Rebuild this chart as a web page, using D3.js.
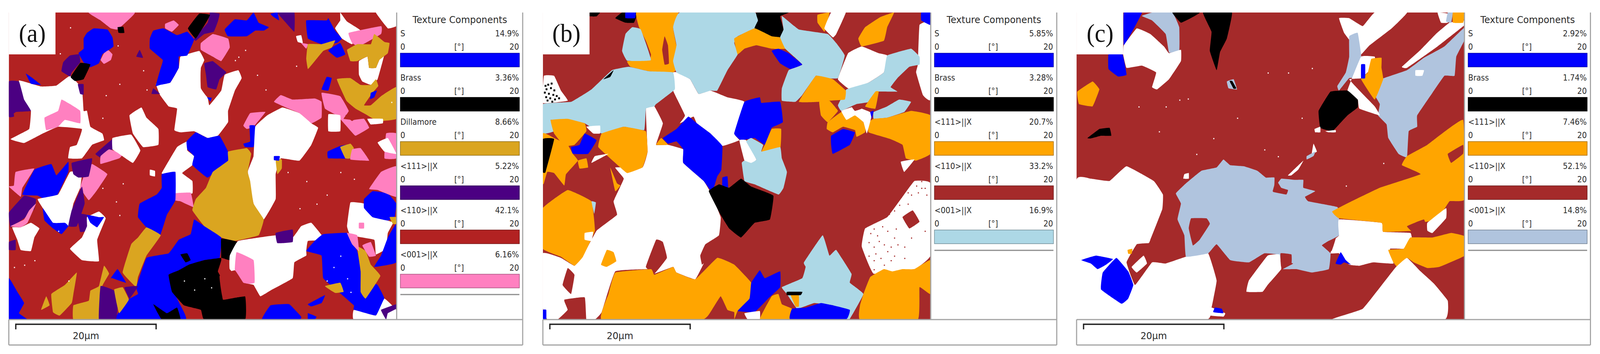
<!DOCTYPE html>
<html><head><meta charset="utf-8">
<script src="https://cdn.jsdelivr.net/npm/d3@7/dist/d3.min.js"></script>
<style>html,body{margin:0;padding:0;background:#fff;overflow:hidden}svg{display:block;width:100vw;height:100vh}</style></head>
<body><svg id="c" viewBox="0 0 4356 905" preserveAspectRatio="none"></svg>
<script>
// ---------- legend data ----------
const panelLabels = ["(a)", "(b)", "(c)"];
const titleText = "Texture Components";
const scaleLabel = "20µm";
const scaleMicrons = 20;
const rangeLabels = ["0", "[°]", "20"];
const componentsA = ["S", "Brass", "Dillamore", "<111>||X", "<110>||X", "<001>||X"];
const percentsA = ["14.9%", "3.36%", "8.66%", "5.22%", "42.1%", "6.16%"];
const keysA = ["s", "k", "g", "i", "r", "p"];
const componentsB = ["S", "Brass", "<111>||X", "<110>||X", "<001>||X"];
const percentsB = ["5.85%", "3.28%", "20.7%", "33.2%", "16.9%"];
const keysB = ["s", "k", "o", "r", "l"];
const componentsC = ["S", "Brass", "<111>||X", "<110>||X", "<001>||X"];
const percentsC = ["2.92%", "1.74%", "7.46%", "52.1%", "14.8%"];
const keysC = ["s", "k", "o", "r", "l"];
const colorsA = {s:"#0000ff",k:"#000000",g:"#daa520",i:"#4b0082",r:"#b22222",p:"#ff80c0",w:"#ffffff"};
const colorsB = {s:"#0000ff",k:"#000000",o:"#ffa500",r:"#a52a2a",l:"#add8e6",w:"#ffffff"};
const colorsC = {s:"#0000ff",k:"#000000",o:"#ffa500",r:"#a52a2a",l:"#b0c4de",w:"#ffffff"};

// ---------- grain outlines, in map units ----------
const grainsA = [
["w","55,355 120,382 165,378 205,335 240,390 245,490 255,490 265,560 300,590 305,620 270,640 240,700 200,700 205,650 225,640 240,570 170,560 125,590 70,632 30,615 85,570 90,490 70,490 65,420"],
["p","130,520 170,490 180,440 205,460 235,490 235,545 190,530 170,560 135,575"],
["i","25,360 55,360 70,440 90,490 45,495 40,515 25,515"],
["p","260,55 395,55 375,90 345,130 325,125 295,90"],
["k","345,120 362,118 365,145 348,145"],
["s","275,125 315,130 330,165 333,205 315,225 300,240 290,280 265,297 245,275 230,235 245,215 245,170 255,145"],
["p","318,222 330,240 325,265 305,282 295,265 305,235"],
["i","205,245 232,240 235,275 210,320 205,338 180,315 185,275"],
["k","235,278 265,285 245,350 220,358 207,340"],
["i","617,55 645,60 640,95 628,140 600,150 575,180 570,170 610,100"],
["k","585,60 617,65 605,100 575,170 552,125"],
["w","530,250 585,225 600,265 590,300 590,370 610,430 615,465 650,400 660,330 700,310 710,345 690,400 670,490 670,540 640,600 610,610 570,580 530,585 512,575 520,480 495,470 470,420 458,370 500,365 525,300"],
["s","450,135 480,125 520,155 550,140 570,175 550,245 525,250 525,300 500,365 470,375 457,380 470,310 478,265 440,215 440,170"],
["p","485,105 510,90 525,110 505,140 485,125"],
["p","590,190 625,150 670,170 675,210 650,270 625,250 590,220"],
["r","590,305 625,255 655,275 680,295 660,330 645,400 610,430 590,390"],
["i","600,280 625,270 650,300 665,320 645,350 635,395 610,385 605,330"],
["s","608,430 622,432 618,448"],
["s","660,130 690,85 725,90 745,55 760,100 790,120 775,135 750,135 725,160 670,160"],
["i","815,55 865,55 865,140 840,100"],
["s","795,60 815,55 820,90 800,70"],
["s","900,90 960,90 965,80 985,135 1005,170 990,190 945,195 905,170"],
["w","870,160 885,155 890,190 875,185"],
["p","885,190 905,195 900,215"],
["s","975,210 1000,190 1015,240 990,255 965,225"],
["g","905,195 945,195 985,178 975,210 950,225 925,270 905,305 900,260"],
["w","1000,55 1020,95 1060,135 1035,195 1005,170 985,125 1000,90"],
["w","1105,55 1165,55 1165,115 1140,125"],
["p","1025,145 1120,115 1120,150 1055,205 1035,190"],
["w","1055,270 1080,250 1085,300 1105,300 1115,265 1130,240 1110,350 1090,375 1065,360 1055,330"],
["g","1020,220 1050,195 1090,195 1100,150 1130,185 1145,190 1140,235 1115,265 1105,300 1085,300 1080,250 1050,270 1030,270"],
["s","945,395 960,340 975,345 965,400"],
["g","990,350 1030,345 1060,375 1090,375 1105,350 1112,380 1095,410 1070,465 1090,465 1120,425 1165,385 1165,525 1110,535 1075,505 1045,480 1018,445"],
["s","1090,410 1108,400 1100,430 1088,438"],
["p","945,410 1000,425 1025,490 1010,525 1040,530 1070,525 1085,565 1045,600 1020,560 990,510 955,480"],
["r","1015,510 1040,495 1055,510 1035,535"],
["w","965,505 1000,510 1000,580 965,580"],
["w","1080,525 1125,525 1125,545 1090,550"],
["p","1135,590 1165,590 1165,700 1130,700"],
["w","1110,630 1140,610 1165,680 1130,670"],
["p","825,420 860,440 925,435 945,450 945,520 915,545 880,500 840,475 805,450"],
["p","735,500 780,495 745,560 725,570 715,555"],
["s","733,555 750,555 750,610 745,650 720,650 715,635 735,625"],
["w","785,510 830,475 880,500 915,545 935,565 915,640 880,710 825,700 810,770 810,880 775,970 745,900 728,760 745,690 750,560"],
["g","810,705 828,705 828,745 815,770"],
["s","805,690 822,690 820,710 805,708"],
["s","963,670 1000,645 1025,640 1035,700 965,700"],
["g","1000,650 1030,635 1040,655 1030,700 1015,700"],
["p","1035,660 1060,655 1085,710 1030,705"],
["w","475,765 520,650 550,625 550,665 570,690 565,730 535,765 565,800 565,855 515,855 515,760 485,768"],
["s","548,625 575,585 610,610 645,600 670,670 670,710 610,785 565,730 570,690 550,660"],
["g","670,670 725,655 738,680 728,760 735,800 745,900 775,970 760,1040 690,1065 650,1050 600,1000 565,930 575,880 605,830 625,760 670,710"],
["p","510,855 560,852 568,915 530,890 510,885"],
["s","475,770 515,760 515,885 490,950 470,1040 430,1005 405,960 410,900 460,860 475,830"],
["w","440,750 455,755 455,780 440,775"],
["p","45,760 100,745 65,830 60,870 25,825 40,820"],
["s","100,750 150,725 165,775 200,715 200,760 165,870 130,880 110,865 65,860"],
["w","205,760 240,760 235,830 215,900 200,1000 150,990 125,920 110,880 170,860"],
["p","270,725 315,770 280,850 260,885 235,830 250,760"],
["i","240,825 248,900 225,1000 200,1000 210,930"],
["i","25,940 70,865 105,880 100,925 70,965 30,1005"],
["p","30,1000 70,970 85,930 105,900 80,985 60,1005"],
["s","125,920 155,985 190,985 200,1000 180,1035 155,1010 130,975"],
["w","35,1005 60,1005 90,985 115,1010 100,1050 90,1110 60,1105 50,1060"],
["i","225,945 255,950 255,1020 235,1025"],
["w","255,960 290,935 310,965 285,1060 290,1155 240,1150 205,1100 240,1050 255,1000"],
["s","255,950 290,960 305,960 285,1005 265,985"],
["i","210,720 270,700 260,780 230,785 215,770"],
["i","280,680 330,615 330,660 300,700"],
["p","295,690 320,660 360,680 350,700 295,725"],
["w","330,610 385,595 412,665 390,720 345,675 330,660"],
["w","380,510 415,475 430,520 465,570 465,640 420,650 390,590"],
["s","75,325 95,345 120,375 90,370"],
["i","228,372 245,372 245,418 235,415"],
["i","450,390 470,415 445,415"],
["i","410,220 420,255 400,250"],
["r","40,500 85,495 85,555 65,565 45,540"],
["g","430,1005 472,1040 430,1130 405,1225 400,1270 360,1205 385,1080 405,1050"],
["s","570,970 600,1000 650,1050 645,1140 600,1150 560,1170 530,1200 495,1215 510,1290 530,1350 545,1413 340,1413 370,1330 405,1300 400,1270 430,1140 495,1120 525,1060 560,1035"],
["k","650,1055 700,1070 700,1110 675,1150 650,1140 600,1150 555,1170 525,1195 495,1215 505,1290 540,1350 590,1370 600,1413 720,1413 720,1310 655,1325 650,1230 640,1200 650,1150"],
["w","700,1065 810,1040 860,1050 885,1000 915,985 955,1060 905,1065 900,1110 900,1130 865,1160 860,1230 800,1280 765,1310 745,1260 720,1260 675,1190 675,1130"],
["p","695,1115 745,1150 748,1250 715,1255 690,1195"],
["r","645,1220 690,1195 715,1250 745,1260 750,1310 720,1310 655,1320"],
["k","530,1125 550,1120 560,1150 545,1160"],
["k","450,1345 490,1385 520,1360 530,1413 475,1413"],
["i","810,1030 860,1015 860,1070 815,1075"],
["s","950,1035 1020,1030 1050,1110 1060,1185 1085,1240 1110,1260 1130,1320 1105,1395 1040,1370 1040,1350 995,1290 950,1230 945,1130 900,1110 925,1065"],
["g","1050,1090 1075,1110 1090,1170 1118,1220 1075,1320 1060,1290 1060,1200"],
["g","955,1265 1000,1250 1010,1290 985,1295"],
["s","770,1413 795,1350 850,1345 885,1400 880,1413"],
["s","905,1345 955,1305 945,1340 915,1355"],
["s","905,1385 930,1400 925,1413 905,1413"],
["w","1040,1370 1105,1395 1130,1320 1165,1370 1165,1413 1040,1413"],
["i","1120,1370 1165,1345 1165,1365 1140,1385 1135,1413"],
["w","1030,895 1070,900 1090,950 1150,980 1165,960 1140,1030 1135,1100 1105,1125 1100,1060 1030,1040 1020,1000"],
["s","1070,880 1095,845 1140,855 1165,900 1160,960 1140,975 1095,960 1070,920"],
["g","1145,960 1165,960 1165,990 1155,990"],
["p","1020,1030 1050,1040 1055,1110 1035,1080"],
["p","1065,1085 1090,1070 1105,1130 1085,1135"],
["p","1055,985 1070,985 1070,1010 1055,1010"],
["p","1120,760 1165,735 1165,870 1110,840 1085,835"],
["s","1165,990 1165,1160 1100,1180 1120,1130 1140,1050"],
["g","150,1300 190,1260 225,1205 215,1300 210,1340 175,1395 155,1380"],
["g","120,1370 135,1310 145,1350"],
["g","215,1413 215,1350 260,1330 265,1285 290,1265 305,1175 320,1210 300,1265 295,1413"],
["i","290,1413 295,1265 335,1285 345,1360 340,1413"],
["g","335,1280 360,1270 378,1325 350,1385 342,1340"],
["i","365,1270 405,1265 380,1320"],
["s","325,1230 345,1190 370,1250 330,1230"],
["s","25,1230 50,1290 70,1340 55,1385 80,1413 25,1413"],
["i","25,1070 45,1060 45,1105 25,1105"]
];
const grainsB = [
["w","330,480 355,470 380,545 360,640 395,640 440,660 440,720 500,800 520,850 550,960 545,1040 505,1080 490,1130 495,1170 500,1165 475,1235 420,1205 410,1180 355,1210 345,1190 240,1200 200,1380 180,1413 155,1413 150,1315 90,1325 100,1370 70,1413 40,1413 27,1360 27,1120 80,1140 120,1175 145,1130 185,1020 245,950 235,890 265,790 240,740 320,740 335,670"],
["w","410,320 425,320 460,350 485,415 520,400 570,430 620,450 590,590 605,620 555,645 520,590 480,545 470,515 430,545 445,510 410,400"],
["w","975,1010 1040,960 1080,880 1120,800 1167,810 1167,1130 1120,1190 1000,1210 965,1090"],
["r","1085,960 1115,930 1135,980 1105,1010"],
["w","1135,110 1167,100 1167,440 1145,420 1125,320 1130,285"],
["k","165,55 195,55 185,72 165,72"],
["k","240,80 260,55 305,55 295,100 270,100"],
["s","270,55 300,55 298,80 270,80"],
["o","302,55 425,55 410,120 420,200 445,265 410,320 340,315 285,295 275,270 340,265 345,240 330,180 310,120"],
["r","385,160 395,200 398,280 385,285 378,220"],
["l","290,120 315,130 345,265 275,268 260,225 270,150"],
["l","430,55 650,55 660,100 650,125 600,160 590,190 600,240 570,310 540,400 520,400 485,415 460,350 420,320 410,270 420,200 410,120"],
["k","655,55 750,55 725,72 735,130 725,165 700,160 650,125 660,90"],
["o","590,170 650,125 700,160 725,165 740,215 700,215 655,200 620,215 600,240"],
["l","730,70 780,130 865,150 890,190 915,245 895,345 850,345 830,335 790,420 770,450 730,445 730,390 750,310 790,285 740,215 725,165 735,130"],
["s","700,225 720,215 750,235 790,285 755,305 725,280"],
["o","835,65 870,55 860,120 855,140 835,100"],
["w","875,55 918,55 890,150 880,165 855,125"],
["o","1020,75 1060,55 1040,120 1030,180 965,205 955,170 975,120"],
["s","1140,55 1167,55 1167,110 1140,90"],
["w","925,235 965,205 1015,235 1040,245 1030,320 985,365 930,395 895,350"],
["l","1040,245 1110,215 1135,250 1135,285 1105,295 1070,345 1050,385 1070,405 1010,405 990,450 950,460 905,490 895,465 920,395 985,365 1030,320"],
["o","780,450 830,335 880,350 918,400 915,440 870,445 840,450"],
["o","840,450 870,445 895,490 865,540 845,510"],
["r","880,445 895,445 890,480"],
["o","975,470 1005,405 1015,405 1005,480"],
["l","1000,525 1000,495 1040,470 1075,440 1110,450 1090,495 1040,520"],
["o","985,540 1000,525 1040,520 1110,490 1167,510 1167,680 1125,710 1095,700 1085,640 1050,615 985,585"],
["o","865,540 905,495 940,490 975,550 975,585 950,605 945,575 910,560 880,585 862,570"],
["w","905,490 945,470 995,500 980,590 970,540 945,510 920,530"],
["r","935,470 955,460 965,480 945,490"],
["s","875,600 910,570 945,585 930,640 880,680 875,640"],
["s","990,495 1000,490 995,525"],
["s","620,450 665,430 670,455 725,450 733,540 700,565 680,640 650,610 610,620 590,590"],
["o","700,570 728,570 725,660 670,672 680,640"],
["w","605,620 625,620 655,705 640,722 620,710"],
["l","625,625 640,610 675,640 670,670 725,650 730,700 745,760 735,830 720,860 650,815 620,800 612,720 620,710 640,720 655,705"],
["o","360,640 375,610 395,640"],
["r","360,1060 380,1070 392,1140 355,1210 330,1180"],
["o","215,1105 235,1115 243,1155 215,1180 198,1170"],
["r","100,1185 120,1215 110,1300 85,1260"],
["r","115,1320 150,1315 150,1413 75,1413 100,1370 90,1330"],
["s","27,1370 37,1370 37,1413 27,1413"],
["s","380,610 420,570 455,515 480,545 520,590 555,645 552,750 540,780 525,850 500,800 440,720 440,660 420,625 395,635"],
["s","555,785 570,780 572,840 555,830"],
["k","515,845 545,815 575,830 610,790 640,825 705,865 695,970 650,985 610,1050 575,1010 550,950"],
["l","27,460 110,450 170,395 230,310 280,295 340,315 410,320 415,395 360,460 355,470 330,480 325,575 265,560 200,590 150,545 100,530 50,530 60,580 27,590"],
["o","50,530 100,525 150,545 155,580 120,640 90,645 60,590"],
["w","155,560 195,555 195,590 175,590"],
["s","150,590 185,620 160,680 115,680 110,650 135,640"],
["o","200,590 265,560 330,580 335,670 320,740 275,765 240,720 190,650"],
["o","27,590 60,610 100,640 115,680 130,710 95,770 90,820 60,765 40,760 30,810 27,810"],
["k","27,615 60,615 35,760 27,760"],
["w","180,690 220,680 170,720"],
["o","130,710 155,700 160,740 135,745"],
["o","225,740 245,810 255,820 240,845"],
["o","27,920 100,840 170,890 180,1020 145,1135 120,1175 80,1135 27,1100"],
["l","170,890 183,895 178,945"],
["w","30,335 60,335 80,400 100,445 27,455"],
["k","205,350 235,310 225,340"],
["w","150,1030 175,1025 170,1065 150,1060"],
["o","240,1205 345,1190 355,1215 410,1180 420,1205 475,1235 540,1140 590,1170 640,1250 635,1330 600,1375 590,1413 590,1380 570,1370 550,1310 520,1380 495,1413 200,1413 220,1300"],
["s","640,1250 665,1195 680,1230 725,1200 725,1270 690,1320 650,1380 600,1375 635,1320"],
["o","665,1413 700,1310 720,1300 730,1345 760,1365 755,1413"],
["l","795,1160 850,1040 870,1130 890,1105 935,1210 930,1250 970,1300 930,1410 920,1413 925,1380 880,1350 825,1340 775,1365 745,1300 730,1270 790,1230 800,1180"],
["s","755,1413 760,1365 800,1360 845,1340 880,1350 930,1370 918,1413"],
["o","755,1300 780,1305 780,1355 770,1355"],
["k","745,1290 790,1290 785,1305 745,1305"],
["w","620,1385 665,1375 665,1413 630,1413"],
["o","990,1225 1030,1190 1055,1200 1085,1190 1120,1190 1167,1150 1167,1300 1135,1270 1130,1413 960,1413 960,1350 970,1300"],
["w","1080,715 1120,705 1090,760"]
];
const grainsC = [
["s","167,55 220,55 195,130 167,200"],
["l","220,70 250,55 310,55 330,120 330,225 300,232 290,150 250,90"],
["k","310,55 390,55 370,75 335,100"],
["k","400,55 485,55 470,170 450,230 440,310 420,225 425,140"],
["w","167,200 205,125 245,150 285,205 300,235 335,220 335,270 300,350 265,395 250,385 262,320 220,290 175,300 165,240"],
["s","122,240 163,240 175,330 150,338 122,305"],
["o","30,405 75,360 95,395 75,470 35,460"],
["w","800,80 830,80 870,115 905,55 1000,55 955,125 890,200 865,240 840,195 815,145"],
["w","985,295 1040,220 1085,150 1125,100 1170,90 1170,110 1090,205 1000,300"],
["w","1090,55 1120,60 1120,100 1100,100"],
["l","1120,55 1135,55 1130,100 1115,95"],
["o","1135,55 1170,55 1165,100 1135,100"],
["l","905,360 1000,310 1050,255 1110,205 1170,120 1170,175 1145,250 1140,335 1110,335 1075,410 1030,510 1030,560 1005,580 1000,695 975,680 945,610 940,550 915,510 920,460 905,420"],
["w","1025,310 1050,310 1045,335 1025,335"],
["l","830,160 855,145 865,240 865,345 830,345 800,400 795,380 820,320 830,250"],
["w","865,250 905,250 905,290 865,345 830,350 860,400 905,470 920,510 860,480 855,440 825,400"],
["o","895,260 925,255 925,300 930,350 905,440 865,350 885,320"],
["s","865,285 877,285 877,345 865,345"],
["k","775,405 825,400 855,440 855,475 825,510 800,550 780,580 745,565 740,490"],
["w","728,570 745,560 745,585 730,585"],
["w","760,580 790,575 790,585 770,585"],
["k","60,610 95,570 125,565 130,600 100,600 70,612"],
["l","470,360 490,350 500,395 475,390"],
["k","478,358 486,358 498,390 490,392"],
["w","28,795 70,790 125,800 175,735 255,800 282,860 280,925 245,1060 240,1075 205,1080 175,1160 200,1260 250,1160 290,1165 350,1135 415,1120 440,1240 425,1360 410,1413 28,1413"],
["l","320,855 350,810 395,755 440,740 460,705 480,730 520,735 560,755 585,785 610,785 610,830 630,790 670,795 695,795 695,830 730,845 700,870 710,890 795,915 800,960 800,1040 770,1065 750,1085 775,1120 770,1190 720,1205 675,1190 635,1190 665,1165 625,1150 620,1125 580,1120 535,1160 480,1150 440,1080 415,1120 350,1135 345,1040 325,970 335,900"],
["r","365,965 410,965 420,990 390,1060 370,1085 358,1010"],
["r","605,845 615,795 630,830 650,840 645,860 610,850"],
["s","105,1205 145,1140 180,1200 195,1260 180,1320 160,1343 100,1280"],
["s","42,1150 85,1130 135,1145 115,1170 90,1190 70,1165"],
["o","178,1105 192,1100 190,1122 180,1122"],
["w","800,970 925,985 930,1025 1010,1030 1015,1070 990,1100 950,1100 960,1165 900,1160 860,1175 830,1170 800,1120 775,1120 790,1055 800,1040"],
["r","750,1085 770,1065 790,1055 778,1110"],
["s","790,1165 805,1115 820,1150 835,1170 815,1160 805,1170"],
["o","780,935 830,895 920,830 1040,770 985,730 1000,690 1060,640 1165,530 1170,880 1125,890 1090,970 1040,985 1020,1020 930,1025 925,985 800,965"],
["r","1120,680 1165,640 1165,680 1130,720"],
["w","1060,985 1115,920 1115,965 1075,1030 1060,1020"],
["o","945,1105 990,1100 1010,1050 1075,1050 1130,1030 1170,1045 1170,1130 1095,1180 1060,1185 1020,1160 1000,1140 975,1185 960,1160"],
["r","1000,1000 1050,970 1060,1030 1020,1030"],
["w","528,1290 535,1240 590,1130 625,1125 630,1190 590,1260 575,1290"],
["r","628,1120 660,1125 660,1165 630,1180"],
["w","780,1413 870,1365 965,1185 1000,1140 1040,1200 1080,1255 1120,1330 1110,1413"],
["w","425,1360 465,1385 460,1400 420,1395"],
["s","435,1360 455,1365 460,1385 430,1380"],
["w","345,770 358,765 358,790 342,790"],
["w","650,775 695,710 680,750 660,775"],
["w","725,635 735,670 720,680"],
["l","705,690 730,670 725,690 705,705"],
["w","190,1180 225,1130 235,1165 205,1205"]
];
// isolated unindexed pixels, in map units
const specksA = "205,120 175,235 345,200 420,310 350,370 310,420 300,520 430,395 520,320 700,250 720,220 690,265 755,330 780,395 640,500 560,310 870,290 990,560 1150,450 770,650 845,760 900,800 960,860 1040,790 1000,760 930,900 880,920 360,810 300,830 340,890 350,950 100,1150 70,1170 40,1180 200,1240 170,1020 600,1230 620,1270 570,1280 540,1240 1000,1130 980,1180 960,1240 1020,1230 1030,1290";
const specksBr = "1080,870 1100,850 1125,820 1140,830 1075,905 1045,945 1020,960 1000,1010 1010,1040 1040,1020 1060,1050 1030,1080 1000,1090 985,1070 1005,1120 1040,1110 1060,1130 1090,1090 1110,1050 1150,1020 1030,1170 1000,1150 990,1030 1025,1000 1065,1010 1050,1090 1015,1065 1070,1080 1090,1140 985,1130 1020,1140 1050,1150 1000,1190 1110,860 1140,800 1100,900 1060,930 1130,850 1155,860 1150,830";
const specksBk = "32,375 40,370 50,365 35,390 48,385 58,395 30,405 42,410 55,415 65,420 34,425 46,430 60,435 72,430 38,440 52,445";
const specksC = "330,440 355,435 290,470 210,470 270,580 430,610 500,520 690,520 590,320 650,320 720,300 380,680 580,660 620,690 820,820 930,720";

// ---------- shared frame layout ----------
const panels = [
 {label:panelLabels[0], off:0,    x0:25, items:componentsA, pct:percentsA, keys:keysA, colors:colorsA, grains:grainsA, specks:[[specksA,"w"]]},
 {label:panelLabels[1], off:1454, x0:27, items:componentsB, pct:percentsB, keys:keysB, colors:colorsB, grains:grainsB, specks:[[specksBr,"r"],[specksBk,"k"]]},
 {label:panelLabels[2], off:2907, x0:28, items:componentsC, pct:percentsC, keys:keysC, colors:colorsC, grains:grainsC, specks:[[specksC,"w"]]}
];
const svg = d3.select("#c");
const parsePts = s => s.split(" ").map(p => p.split(",").map(Number));
const gray = "#a3a3a3", ink = "#2b2b2b";

panels.forEach((P, pi) => {
  const g = svg.append("g").attr("transform", `translate(${P.off},0)`);
  const x = d3.scaleLinear([P.x0, P.x0 + 1140], [24, 1079]);
  const y = d3.scaleLinear([55, 1413], [32, 817]);
  const col = d3.scaleOrdinal(Object.keys(P.colors), Object.values(P.colors));
  const clipId = "clip" + pi;
  g.append("clipPath").attr("id", clipId).append("rect").attr("x",24).attr("y",32).attr("width",1055).attr("height",785);
  const map = g.append("g").attr("clip-path", `url(#${clipId})`);
  map.append("rect").attr("x",24).attr("y",32).attr("width",1055).attr("height",785).attr("fill", col("r"));
  const line = d3.line().x(d => x(d[0])).y(d => y(d[1])).curve(d3.curveCardinalClosed.tension(0.75));
  map.selectAll("path.grain").data(P.grains).join("path").attr("class","grain")
     .attr("d", d => line(parsePts(d[1]))).attr("fill", d => col(d[0]));
  P.specks.forEach(([s,k]) => {
    map.append("g").selectAll("rect").data(parsePts(s)).join("rect")
       .attr("x", d => x(d[0])).attr("y", d => y(d[1])).attr("width",k==="k"?5:3).attr("height",k==="k"?5:3).attr("fill", col(k));
  });
  // label box
  g.append("rect").attr("x",24).attr("y",32).attr("width",127).attr("height",107).attr("fill","#fff");
  g.append("text").text(P.label).attr("x",88).attr("y",107).attr("text-anchor","middle")
   .attr("font-family","Liberation Serif").attr("font-size",66).attr("fill","#111");

  // legend frame
  g.append("rect").attr("x",1079).attr("y",32).attr("width",344).attr("height",785).attr("fill","#fff");
  const ruler = [[1080,32,1080,817],[1423,32,1423,882],[24,817,1423,817],[24,817,24,882],[24,882,1423,882]];
  g.selectAll("line.frame").data(ruler).join("line").attr("class","frame")
   .attr("x1",d=>d[0]).attr("y1",d=>d[1]).attr("x2",d=>d[2]).attr("y2",d=>d[3])
   .attr("stroke",gray).attr("stroke-width",3);

  const txt = (sel, s, xx, yy, size, anchor) => sel.append("text").text(s).attr("x",xx).attr("y",yy)
     .attr("font-size",size).attr("text-anchor",anchor).attr("font-family","DejaVu Sans").attr("fill",ink);
  txt(g, titleText, 1252, 59, 25, "middle");

  const rowY = d3.scaleLinear([0,1],[0,113]);
  const barX = d3.scaleLinear([0,20],[1090,1414]);
  const rows = g.selectAll("g.row").data(P.items).join("g").attr("class","row")
     .attr("transform",(d,i)=>`translate(0,${rowY(i)})`);
  rows.each(function(d,i){
    const r = d3.select(this);
    txt(r, d, 1090, 93, 20.5, "start");
    txt(r, P.pct[i], 1413, 93, 20.5, "end");
    txt(r, rangeLabels[0], barX(0), 127, 20.5, "start");
    txt(r, rangeLabels[1], barX(10)-2, 127, 20.5, "middle");
    txt(r, rangeLabels[2], 1413, 127, 20.5, "end");
    const c = col(P.keys[i]);
    r.append("rect").attr("x",barX(0)).attr("y",136).attr("width",barX(20)-barX(0)).attr("height",35)
     .attr("fill",c).attr("stroke",d3.color(c).darker(1.2)).attr("stroke-width",1.5);
  });
  const endY = 171 + rowY(P.items.length-1) + 17;
  g.append("line").attr("x1",barX(0)).attr("x2",barX(20)).attr("y1",endY).attr("y2",endY).attr("stroke","#8c8c8c").attr("stroke-width",3);

  // scale bar
  const um = d3.scaleLinear([0,scaleMicrons],[43,425]);
  g.append("path").attr("d",`M${um(0)},842V829H${um(20)}V842`).attr("fill","none").attr("stroke","#222").attr("stroke-width",3.5);
  txt(g, scaleLabel, um(10), 867, 25, "middle");
});
</script></body></html>
